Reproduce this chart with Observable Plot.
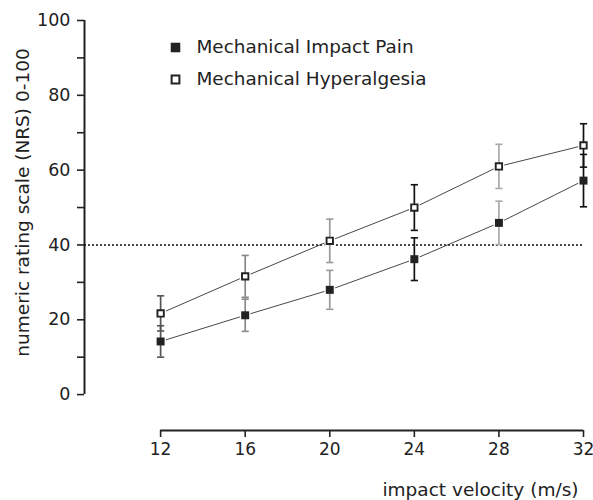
<!DOCTYPE html>
<html>
<head>
<meta charset="utf-8">
<script src="https://cdn.jsdelivr.net/npm/d3@7"></script>
<script src="https://cdn.jsdelivr.net/npm/@observablehq/plot@0.6"></script>
<style>
  html, body { margin: 0; padding: 0; background: #fff; }
</style>
</head>
<body>
<div id="chart"></div>
<script>
// ---- data ----
const velocity = [12, 16, 20, 24, 28, 32];
const seriesNames = ["Mechanical Impact Pain", "Mechanical Hyperalgesia"];
const impactPain = [14.2, 21.2, 28.0, 36.2, 45.9, 57.2];
const impactPainErr = [4.2, 4.3, 5.2, 5.7, 5.8, 7.0];
const hyperalgesia = [21.7, 31.6, 41.1, 50.0, 61.0, 66.6];
const hyperalgesiaErr = [4.7, 5.6, 5.8, 6.1, 5.9, 5.8];
const yTicks = [0, 10, 20, 30, 40, 50, 60, 70, 80, 90, 100];
const threshold = [40];
const xLabel = "impact velocity (m/s)";
const yLabel = "numeric rating scale (NRS) 0-100";

// ---- styles (kept apart from data) ----
const barShade = {12: "#555", 16: "#888", 20: "#999", 24: "#111", 28: "#aaa", 32: "#111"};
const ink = "#222";
const font = "DejaVu Sans, Verdana, sans-serif";

// ---- table ----
const rows = [];
velocity.forEach((v, i) => {
  rows.push({series: seriesNames[0], v, y: impactPain[i], lo: impactPain[i] - impactPainErr[i], hi: impactPain[i] + impactPainErr[i]});
  rows.push({series: seriesNames[1], v, y: hyperalgesia[i], lo: hyperalgesia[i] - hyperalgesiaErr[i], hi: hyperalgesia[i] + hyperalgesiaErr[i]});
});
const filled = rows.filter(d => d.series === seriesNames[0]);
const open = rows.filter(d => d.series === seriesNames[1]);

const xDomain = [8.4, 32];
const yDomain = [-9.6, 100];

const capSymbol = {
  draw(ctx, size) {
    const w = Math.sqrt(size / Math.PI);
    ctx.moveTo(-w, 0);
    ctx.lineTo(w, 0);
  }
};

const chart = Plot.plot({
  width: 593,
  height: 500,
  marginLeft: 84,
  marginRight: 10,
  marginTop: 20,
  marginBottom: 70,
  style: {fontFamily: font, fontSize: "17px", color: ink, background: "#fff"},
  x: {domain: xDomain},
  y: {domain: yDomain},
  marks: [
    // axes
    Plot.axisY({ticks: yTicks, tickSize: 7, tickPadding: 7, strokeWidth: 1.6, tickFormat: d => d % 20 === 0 ? d : "", label: null, fontSize: 17.5}),
    Plot.ruleX([xDomain[0]], {y1: yTicks[0], y2: yTicks[yTicks.length - 1], stroke: ink, strokeWidth: 2}),
    Plot.axisX({ticks: velocity, tickSize: 7, tickPadding: 5, strokeWidth: 1.6, label: null, fontSize: 17}),
    Plot.ruleY([yDomain[0]], {x1: velocity[0], x2: velocity[velocity.length - 1], stroke: ink, strokeWidth: 2}),
    // axis titles
    Plot.text([yLabel], {text: d => d, frameAnchor: "left", textAnchor: "middle", lineAnchor: "middle", rotate: -90, dx: -61, dy: -23, fontSize: 18.5, fill: ink}),
    Plot.text([xLabel], {text: d => d, frameAnchor: "bottom-right", textAnchor: "end", lineAnchor: "middle", dx: -5, dy: 60, fontSize: 18.5, fill: ink}),
    // threshold
    Plot.ruleY(threshold, {stroke: "#111", strokeWidth: 1.6, strokeDasharray: "2,2"}),
    // series lines
    Plot.line(rows, {x: "v", y: "y", z: "series", stroke: "#333", strokeWidth: 0.9}),
    Plot.dot(rows, {x: "v", y: "y", symbol: "square", r: 6, fill: "white"}),
    // error bars
    Plot.ruleX(rows, {x: "v", y1: "lo", y2: "hi", stroke: d => barShade[d.v], strokeWidth: 1.7}),
    Plot.dot(rows, {x: "v", y: "lo", symbol: capSymbol, r: 3.6, fill: "none", stroke: d => barShade[d.v], strokeWidth: 1.6}),
    Plot.dot(rows, {x: "v", y: "hi", symbol: capSymbol, r: 3.6, fill: "none", stroke: d => barShade[d.v], strokeWidth: 1.6}),
    // markers
    Plot.dot(filled, {x: "v", y: "y", symbol: "square", r: 4.5, fill: ink, stroke: "none"}),
    Plot.dot(open, {x: "v", y: "y", symbol: "square", r: 3.6, fill: "white", stroke: ink, strokeWidth: 1.9}),
    // legend
    Plot.dot([seriesNames[0]], {frameAnchor: "top-left", dx: 91, dy: 27, symbol: "square", r: 5.4, fill: ink, stroke: "none"}),
    Plot.dot([seriesNames[1]], {frameAnchor: "top-left", dx: 91, dy: 59, symbol: "square", r: 4.4, fill: "white", stroke: ink, strokeWidth: 2}),
    Plot.text([seriesNames[0]], {text: d => d, frameAnchor: "top-left", dx: 112, dy: 27, textAnchor: "start", lineAnchor: "middle", fontSize: 18.4, fill: ink}),
    Plot.text([seriesNames[1]], {text: d => d, frameAnchor: "top-left", dx: 112, dy: 59, textAnchor: "start", lineAnchor: "middle", fontSize: 18.4, fill: ink})
  ]
});
document.getElementById("chart").appendChild(chart);
</script>
</body>
</html>
